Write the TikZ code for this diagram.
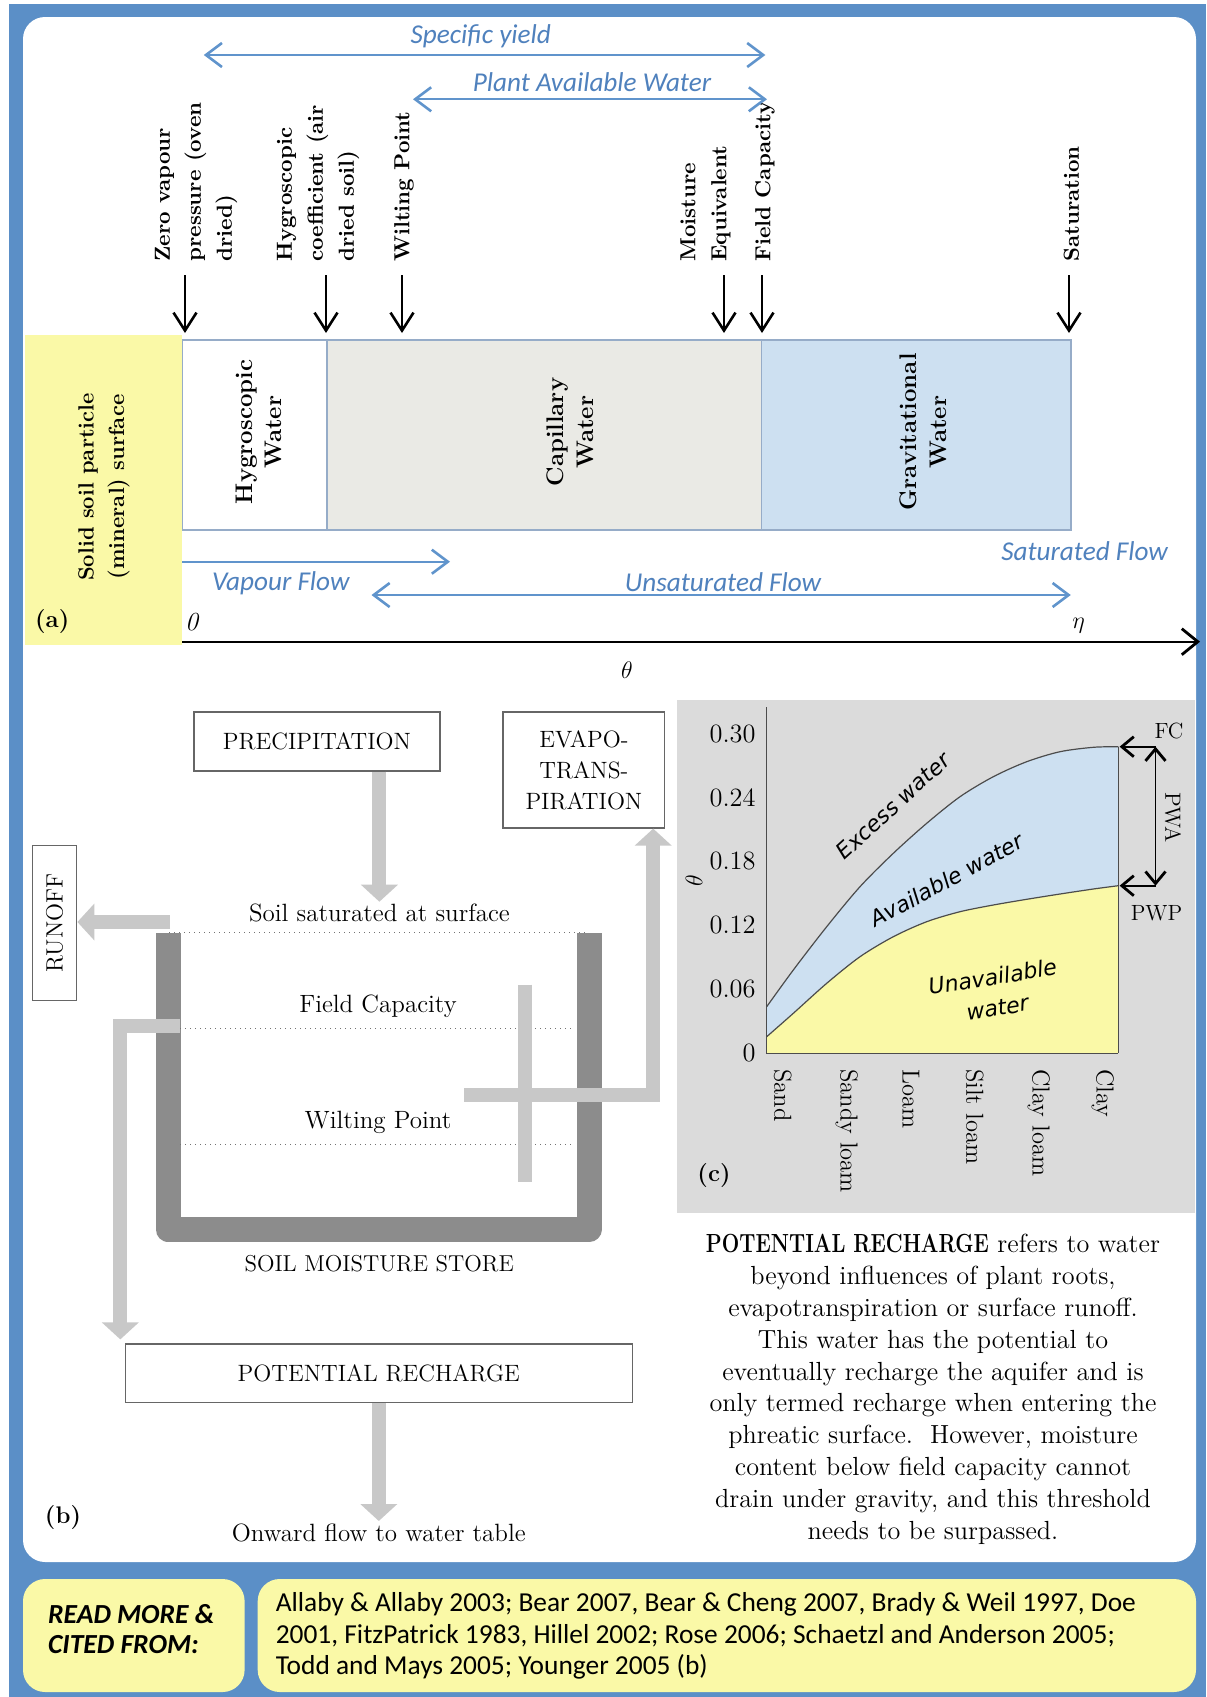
\documentclass[tikz,border=0pt]{standalone}
\usepackage{fontspec}
\usepackage{amsmath}
\usepackage{graphicx}
\usepackage{tikz}
\usetikzlibrary{arrows.meta}
\usetikzlibrary{positioning}

\newfontfamily\calibrifont{Carlito}
\newfontfamily\verdanafont{DejaVu Sans}[ItalicFont={DejaVu Sans Oblique}]

\definecolor{frameblue}{RGB}{91,143,199}
\definecolor{labelblue}{RGB}{79,129,189}
\definecolor{arrowblue}{RGB}{96,148,204}
\definecolor{soilyellow}{RGB}{250,249,167}
\definecolor{capgrey}{RGB}{234,234,229}
\definecolor{gravblue}{RGB}{205,224,241}
\definecolor{plotgrey}{RGB}{219,219,219}
\definecolor{pipegrey}{RGB}{200,200,200}
\definecolor{storegrey}{RGB}{140,140,140}
\definecolor{barline}{RGB}{150,172,200}

\tikzset{
    zone/.style={draw=barline, line width=0.7pt},
    zone label/.style={rotate=90, align=center, inner sep=0pt, font=\bfseries\fontsize{12}{14.8}\selectfont},
    point label/.style={rotate=90, anchor=west, align=left, inner sep=0pt, font=\bfseries\fontsize{10.9}{15.5}\selectfont},
    drop arrow/.style={line width=0.6pt, -{Straight Barb[length=9pt,width=11.5pt,line width=1.3pt]}},
    flow/.style={draw=arrowblue, line width=1.1pt, >={Straight Barb[length=8pt,width=12pt,line width=1.3pt]}},
    flow label/.style={text=labelblue, inner sep=0pt, font=\calibrifont\itshape\fontsize{13.6}{16}\selectfont},
    flow box/.style={draw=black!60, line width=0.6pt, fill=white, inner sep=0pt, align=center, font=\fontsize{11.8}{15.5}\selectfont},
    store text/.style={inner sep=1pt, font=\fontsize{12.5}{15}\selectfont},
    pipe/.style={draw=pipegrey, line width=7pt},
    pipe arrow/.style={pipe, -{Triangle[width=18pt,length=8.5pt]}},
    store wall/.style={draw=storegrey, line width=12.5pt, line join=round},
    level line/.style={draw=black!55, line width=0.5pt, dotted},
    tick label/.style={anchor=east, inner sep=0pt, font=\fontsize{13.2}{15}\selectfont},
    soil label/.style={rotate=-90, anchor=west, inner sep=0pt, font=\fontsize{12.3}{15}\selectfont},
    class label/.style={inner sep=0pt, align=center, font=\verdanafont\itshape\fontsize{11}{15.5}\selectfont},
    pwa arrow/.style={line width=0.9pt, >={Straight Barb[length=6pt,width=10pt,line width=1.4pt]}},
    curve/.style={draw=black!70, line width=0.6pt},
    tag/.style={inner sep=0pt, font=\bfseries\fontsize{12}{14}\selectfont},
}

\begin{document}
\begin{tikzpicture}[x=0.5pt, y=-0.5pt]
    \useasboundingbox (0,0) rectangle (1206,1697);

    % frame and panels
    \fill[frameblue] (9,4) rectangle (1206,1697);
    \fill[white, rounded corners=11pt] (23,17) rectangle (1196,1562);
    \fill[soilyellow, rounded corners=11pt] (23,1579) rectangle (244.6,1692);
    \fill[soilyellow, rounded corners=11pt] (257.7,1579) rectangle (1196,1692);

    % (a) water held around a soil particle
    \fill[soilyellow] (25.4,335) rectangle (182.3,645);
    \node[zone label, font=\bfseries\fontsize{11}{15.2}\selectfont] (particle) at (104,487) {Solid soil particle\\(mineral) surface};
    \draw[zone, fill=white] (182.3,340) rectangle (327,530);
    \draw[zone, fill=capgrey] (327,340) rectangle (761.5,530);
    \draw[zone, fill=gravblue] (761.5,340) rectangle (1070.8,530);
    \node[zone label] (hygro) at (259,432) {Hygroscopic\\Water};
    \node[zone label] (capil) at (570,432) {Capillary\\Water};
    \node[zone label] (grav) at (923,432) {Gravitational\\Water};

    \node[point label] (zerovp) at (196,262) {Zero vapour\\pressure (oven\\dried)};
    \node[point label] (hygcoef) at (318,262) {Hygroscopic\\coefficient (air\\dried soil)};
    \node[point label] (wilt) at (404,262) {Wilting Point};
    \node[point label] (moist) at (705.5,262) {Moisture\\Equivalent};
    \node[point label] (field) at (765,262) {Field Capacity};
    \node[point label] (satur) at (1071.5,262) {Saturation};

    \coordinate (dry) at (185,333);
    \coordinate (hc) at (326,333);
    \coordinate (wp) at (402,333);
    \coordinate (me) at (724,333);
    \coordinate (fc) at (762,333);
    \coordinate (sat) at (1069,333);
    \draw[drop arrow] (dry) ++(0,-58) -- (dry);
    \draw[drop arrow] (hc) ++(0,-58) -- (hc);
    \draw[drop arrow] (wp) ++(0,-58) -- (wp);
    \draw[drop arrow] (me) ++(0,-58) -- (me);
    \draw[drop arrow] (fc) ++(0,-58) -- (fc);
    \draw[drop arrow] (sat) ++(0,-58) -- (sat);

    \coordinate (sy0) at (203.8,55);
    \coordinate (sy1) at (765.4,55);
    \draw[flow, <->] (sy0) -- (sy1);
    \node[flow label] (sylbl) at (480.8,36.7) {Specific yield};
    \coordinate (paw0) at (413,99.3);
    \coordinate (paw1) at (767,99.3);
    \draw[flow, <->] (paw0) -- (paw1);
    \node[flow label] (pawlbl) at (592,81.7) {Plant Available Water};

    \coordinate (vap0) at (182.3,561.7);
    \coordinate (vap1) at (450,561.7);
    \draw[flow, ->] (vap0) -- (vap1);
    \node[flow label] (vaplbl) at (280.8,583.3) {Vapour Flow};
    \coordinate (uns0) at (371.5,595);
    \coordinate (uns1) at (1070.8,595);
    \draw[flow, <->] (uns0) -- (uns1);
    \node[flow label] (unslbl) at (723,581.7) {Unsaturated Flow};
    \node[flow label] (satlbl) at (1084.6,551) {Saturated Flow};

    \coordinate (theta0) at (182.3,641.7);
    \coordinate (theta1) at (1200,641.7);
    \draw[line width=1pt, -{Straight Barb[length=8pt,width=13pt,line width=1.4pt]}] (theta0) -- (theta1);
    \node[inner sep=0pt, font=\fontsize{13}{15}\selectfont] (zero) at (192.3,621.7) {\textit{0}};
    \node[inner sep=0pt, font=\fontsize{13}{15}\selectfont] (eta) at (1078.5,626) {$\eta$};
    \node[inner sep=0pt, font=\fontsize{13}{15}\selectfont] (theta) at (627,670) {$\theta$};
    \node[tag] (taga) at (52.3,621.7) {(a)};

    % (b) soil moisture store
    \node[flow box, minimum width=123pt, minimum height=29.5pt] (precip) at (316.9,741.5) {PRECIPITATION};
    \node[flow box, minimum width=80.9pt, minimum height=58pt] (evapo) at (583.9,770) {EVAPO-\\TRANS-\\PIRATION};
    \node[flow box, rotate=90, minimum width=77.7pt, minimum height=22.2pt] (runoff) at (54.6,923) {RUNOFF};
    \node[flow box, minimum width=253.5pt, minimum height=29.2pt] (recharge) at (378.8,1373.2) {POTENTIAL RECHARGE};

    \draw[store wall] (168,933) -- (168,1229.5) -- (589,1229.5) -- (589,933);
    \draw[level line] (169,932.9) -- (587.6,932.9);
    \draw[level line] (180,1028.6) -- (574.6,1028.6);
    \draw[level line] (180,1144.3) -- (574.6,1144.3);

    \node[store text] (soilsat) at (379.4,913.2) {Soil saturated at surface};
    \node[store text] (fclbl) at (378,1006) {Field Capacity};
    \node[store text] (wplbl) at (378,1122) {Wilting Point};
    \node[store text, font=\fontsize{11.5}{14}\selectfont] (storelbl) at (379.2,1263.3) {SOIL MOISTURE STORE};
    \node[store text, below=59pt of recharge] (onward) {Onward flow to water table};

    \draw[pipe arrow] (precip.south -| soilsat.north) -- (soilsat.north);
    \coordinate (spill) at (170,922);
    \draw[pipe arrow] (spill) -- (spill -| runoff.south);
    \draw[pipe] (524.7,984.6) -- (524.7,1182); % roots
    \coordinate (uptake) at (464,1095.4);
    \draw[pipe arrow] (uptake) -| ([xshift=-6.1pt]evapo.south east);
    \coordinate (drain) at (180,1025.7);
    \draw[pipe arrow] (drain) -| ([xshift=-2.2pt, yshift=2pt]recharge.north west);
    \draw[pipe arrow] (recharge.south) -- (onward.north);
    \node[tag] (tagb) at (63,1517.7) {(b)};

    \node[anchor=north, inner sep=0pt, align=center, font=\fontsize{13.1}{15.9}\selectfont] (note) at (933,1234)
        {\scalebox{0.79}[1]{\textbf{POTENTIAL RECHARGE}} refers to water\\
         beyond influences of plant roots,\\
         evapotranspiration or surface runoff.\\
         This water has the potential to\\
         eventually recharge the aquifer and is\\
         only termed recharge when entering the\\
         phreatic surface.\ \ However, moisture\\
         content below field capacity cannot\\
         drain under gravity, and this threshold\\
         needs to be surpassed.};

    % (c) water content by soil texture
    \fill[plotgrey] (676.8,700) rectangle (1194.8,1213);
    \fill[gravblue] (766.7,1053.3) -- plot[smooth] coordinates {(766.7,1006.7) (793.3,970) (826.7,926.7) (860,886.7) (893.3,853.3) (926.7,823.3) (960,796.7) (993.3,776.7) (1026.7,761.7) (1060,751.7) (1093.3,747.3) (1118.3,746.7)} -- (1118.3,1053.3) -- cycle;
    \fill[soilyellow] (766.7,1053.3) -- plot[smooth] coordinates {(766.7,1036.7) (793.3,1013.3) (826.7,983.3) (860,956.7) (893.3,936.7) (926.7,921.7) (960,911.7) (993.3,905) (1026.7,899.3) (1060,894) (1093.3,889) (1118.3,885.7)} -- (1118.3,1053.3) -- cycle;
    \draw[curve] plot[smooth] coordinates {(766.7,1006.7) (793.3,970) (826.7,926.7) (860,886.7) (893.3,853.3) (926.7,823.3) (960,796.7) (993.3,776.7) (1026.7,761.7) (1060,751.7) (1093.3,747.3) (1118.3,746.7)};
    \draw[curve] plot[smooth] coordinates {(766.7,1036.7) (793.3,1013.3) (826.7,983.3) (860,956.7) (893.3,936.7) (926.7,921.7) (960,911.7) (993.3,905) (1026.7,899.3) (1060,894) (1093.3,889) (1118.3,885.7)};
    \draw[curve] (1118.3,746.7) -- (1118.3,1053.3);
    \draw[curve] (766.7,707) -- (766.7,1053.3) -- (1118.3,1053.3);

    \node[tick label] (t30) at (756,733.9) {0.30};
    \node[tick label] (t24) at (756,797.6) {0.24};
    \node[tick label] (t18) at (756,861.3) {0.18};
    \node[tick label] (t12) at (756,925) {0.12};
    \node[tick label] (t06) at (756,988.8) {0.06};
    \node[tick label] (t00) at (756,1052.5) {0};
    \node[rotate=90, inner sep=0pt, font=\fontsize{13}{15}\selectfont] (thetac) at (694,881) {$\theta$};

    \node[soil label] (sand) at (782.8,1068.8) {Sand};
    \node[soil label] (sandyloam) at (846.8,1068.8) {Sandy loam};
    \node[soil label] (loam) at (910.8,1068.8) {Loam};
    \node[soil label] (siltloam) at (974.8,1068.8) {Silt loam};
    \node[soil label] (clayloam) at (1038.8,1068.8) {Clay loam};
    \node[soil label] (clay) at (1102.8,1068.8) {Clay};

    \node[class label, rotate=42.5] (excess) at (893,806) {Excess water};
    \node[class label, rotate=28.5] (avail) at (946.7,880) {Available water};
    \node[class label, rotate=9] (unavail) at (995,992) {Unavailable\\water};

    \coordinate (fcend) at (1119.6,746.7);
    \coordinate (pwpend) at (1119.6,885.7);
    \coordinate (fcbend) at (1155.5,746.7);
    \coordinate (pwpbend) at (1155.5,885.7);
    \draw[pwa arrow, ->] (fcbend) -- (fcend);
    \draw[pwa arrow, ->] (pwpbend) -- (pwpend);
    \draw[pwa arrow, <->] (fcbend) -- (pwpbend);
    \node[inner sep=0pt, font=\fontsize{11}{13}\selectfont] (fctag) at (1169,731) {FC};
    \node[inner sep=0pt, font=\fontsize{11}{13}\selectfont] (pwptag) at (1156.5,913) {PWP};
    \node[rotate=-90, inner sep=0pt, font=\fontsize{11}{13}\selectfont] (pwatag) at (1173,817.5) {PWA};
    \node[tag] (tagc) at (714,1175.5) {(c)};

    % sources
    \node[anchor=west, align=left, inner sep=0pt, font=\calibrifont\bfseries\itshape\fontsize{13.8}{15.3}\selectfont] (readmore) at (47.7,1629) {READ MORE \&\\CITED FROM:};
    \node[anchor=west, align=left, inner sep=0pt, font=\calibrifont\fontsize{13.7}{15.8}\selectfont] (cites) at (275.4,1636)
        {Allaby \& Allaby 2003; Bear 2007, Bear \& Cheng 2007, Brady \& Weil 1997, Doe\\
         2001, FitzPatrick 1983, Hillel 2002; Rose 2006; Schaetzl and Anderson 2005;\\
         Todd and Mays 2005; Younger 2005 (b)};
\end{tikzpicture}
\end{document}
